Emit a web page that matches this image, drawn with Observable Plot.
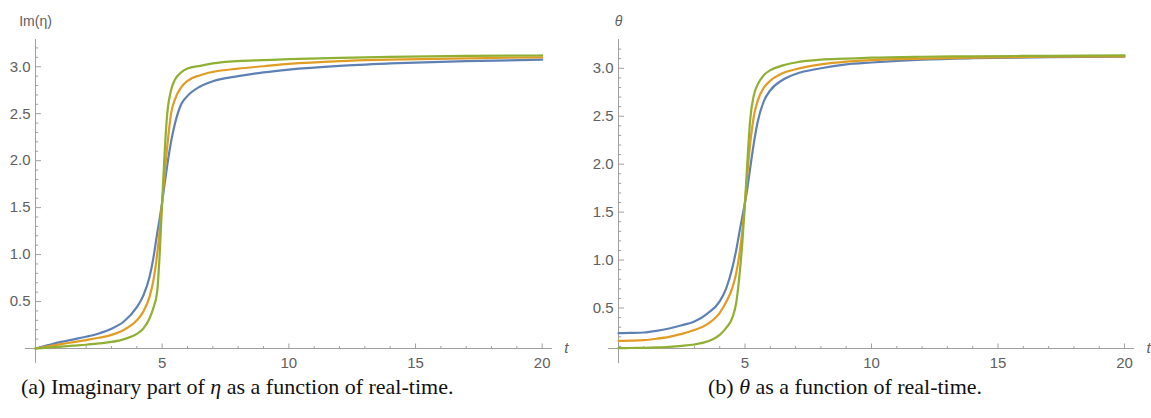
<!DOCTYPE html>
<html><head><meta charset="utf-8">
<script src="https://cdn.jsdelivr.net/npm/d3@7"></script>
<script src="https://cdn.jsdelivr.net/npm/@observablehq/plot@0.6"></script>
<style>
html,body{margin:0;padding:0;background:#fff}
body{width:1151px;height:418px;position:relative;overflow:hidden}
.panel{position:absolute;top:0}
.panel svg{overflow:visible}
.cap{position:absolute;top:375.6px;font-family:"Liberation Serif","DejaVu Serif",serif;font-size:22px;line-height:22px;color:#111;white-space:nowrap}
</style></head><body>
<div class="panel" id="pa" style="left:0px"></div>
<div class="panel" id="pb" style="left:576px"></div>
<div class="cap" id="ca" style="left:21px">(a) Imaginary part of <i>η</i> as a function of real-time.</div>
<div class="cap" id="cb" style="left:708px">(b) <i>θ</i> as a function of real-time.</div>
<script>
// shared time grid
const T = [0,0.5,1,1.5,2,2.5,3,3.5,4,4.25,4.5,4.65,4.8,4.9,5,5.1,5.2,5.35,5.5,5.75,6,6.5,7,8,9,10,12,14,17,20];

// panel (a): Im(eta)
const etaBlue   = [0,0.036,0.07,0.097,0.125,0.16,0.21,0.29,0.44,0.56,0.76,0.96,1.22,1.38,1.56,1.76,1.95,2.2,2.39,2.6,2.69,2.79,2.845,2.9,2.94,2.97,3.01,3.035,3.06,3.075];
const etaOrange = [0,0.024,0.047,0.068,0.09,0.114,0.145,0.2,0.30,0.39,0.55,0.72,1.0,1.25,1.56,1.88,2.15,2.5,2.65,2.78,2.85,2.91,2.945,2.98,3.005,3.03,3.06,3.075,3.09,3.10];
const etaGreen  = [0,0.01,0.02,0.03,0.04,0.054,0.07,0.1,0.156,0.21,0.32,0.43,0.6,1.0,1.56,2.1,2.5,2.75,2.86,2.94,2.98,3.01,3.035,3.06,3.07,3.08,3.095,3.105,3.115,3.12];

// panel (b): theta
const thBlue   = [0.238,0.24,0.245,0.262,0.287,0.32,0.36,0.44,0.57,0.70,0.92,1.1,1.32,1.46,1.6,1.76,1.95,2.22,2.44,2.66,2.77,2.88,2.94,3.0,3.04,3.06,3.09,3.105,3.115,3.12];
const thOrange = [0.158,0.16,0.165,0.18,0.2,0.23,0.27,0.33,0.45,0.56,0.71,0.86,1.1,1.32,1.6,1.92,2.2,2.5,2.66,2.8,2.87,2.95,2.99,3.04,3.07,3.085,3.10,3.11,3.12,3.125];
const thGreen  = [0.082,0.083,0.085,0.089,0.095,0.105,0.12,0.15,0.22,0.29,0.40,0.55,0.89,1.2,1.6,2.05,2.45,2.72,2.83,2.93,2.98,3.03,3.06,3.09,3.10,3.11,3.12,3.125,3.13,3.135];

const seriesNames = ["s1","s2","s3"];
const seriesColors = ["#5E81B5","#E19C24","#8FB032"];

const xMajor = [5,10,15,20];
const xMinor = d3.range(1,21).filter(d => d % 5 !== 0);
const yMajor = [0.5,1.0,1.5,2.0,2.5,3.0];

function rows(arrs){
  const out = [];
  arrs.forEach((a,i) => a.forEach((v,j) => out.push({t:T[j], v, s:seriesNames[i]})));
  return out;
}

function panel({data, yBase, yTop, yLow, yMinorFrom, label, labelItalic, width, marginLeft, marginRight}){
  const height = 380, marginTop = 39;
  const marginBottom = 380 - 348;
  const pxY = (height - marginTop - marginBottom) / (yTop - yBase);
  const pxX = (width - marginLeft - marginRight) / 20;
  const axisColor = "#a0a0a0";
  const labelColor = "#606060";
  const yMinor = d3.range(Math.round(yMinorFrom*10), 33).map(d => d/10).filter(d => Math.abs(d*2 - Math.round(d*2)) > 1e-6);
  return Plot.plot({
    width, height, marginTop, marginBottom, marginLeft, marginRight,
    style:{fontFamily:"'Liberation Sans', Arial, sans-serif", fontSize:"15px", background:"transparent", overflow:"visible"},
    x:{domain:[0,20], axis:null},
    y:{domain:[yBase,yTop], axis:null},
    color:{domain:seriesNames, range:seriesColors},
    marks:[
      Plot.ruleY([yBase], {x1:-0.4, x2:20.4, stroke:axisColor, strokeWidth:1}),
      Plot.ruleX([0], {y1:yLow, y2:yTop, stroke:axisColor, strokeWidth:1}),
      Plot.link(xMinor, {x1:d=>d, x2:d=>d, y1:yBase, y2:yBase + 2.5/pxY, stroke:axisColor}),
      Plot.link(xMajor, {x1:d=>d, x2:d=>d, y1:yBase, y2:yBase + 5/pxY, stroke:axisColor}),
      Plot.link(yMinor, {y1:d=>d, y2:d=>d, x1:0, x2:2.7/pxX, stroke:axisColor}),
      Plot.link(yMajor, {y1:d=>d, y2:d=>d, x1:0, x2:5.5/pxX, stroke:axisColor}),
      Plot.text(xMajor, {x:d=>d, y:yBase, dy:15, text:d=>String(d), fill:labelColor}),
      Plot.text(yMajor, {x:0, y:d=>d, dx:-5, textAnchor:"end", text:d=>d.toFixed(1), fill:labelColor}),
      Plot.text([label], {x:0, y:yTop, dy:-18, text:d=>d, fill:labelColor, fontSize:14, fontStyle: labelItalic ? "italic" : "normal"}),
      Plot.text(["t"], {x:20.4, y:yBase, dx:14, text:d=>d, fill:labelColor, fontStyle:"italic", fontSize:15}),
      Plot.line(data, {x:"t", y:"v", z:"s", stroke:"s", strokeWidth:2.2, curve:"monotone-x"})
    ]
  });
}

document.getElementById("pa").append(panel({
  data: rows([etaBlue, etaOrange, etaGreen]),
  yBase:0, yTop:3.29, yLow:-0.16, yMinorFrom:0.1, label:"Im(η)", labelItalic:false,
  width:576, marginLeft:35, marginRight:576-541.7
}));
document.getElementById("pb").append(panel({
  data: rows([thBlue, thOrange, thGreen]),
  yBase:0.078, yTop:3.30, yLow:-0.08, yMinorFrom:0.0, label:"θ", labelItalic:true,
  width:575, marginLeft:42, marginRight:575-548
}));
</script>
</body></html>
